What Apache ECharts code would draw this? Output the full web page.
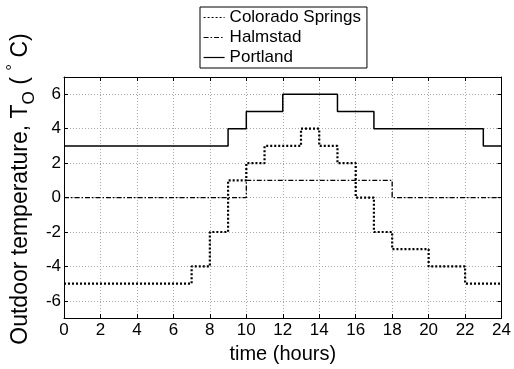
<!DOCTYPE html>
<html>
<head>
<meta charset="utf-8">
<script src="https://cdn.jsdelivr.net/npm/echarts@6/dist/echarts.min.js"></script>
<style>html,body{margin:0;padding:0;background:#fff;}#c{width:514px;height:369px;}</style>
</head>
<body>
<div id="c"></div>
<script>
const hours = [0,1,2,3,4,5,6,7,8,9,10,11,12,13,14,15,16,17,18,19,20,21,22,23,24];
const coloradoSprings = [-5,-5,-5,-5,-5,-5,-5,-4,-2,1,2,3,3,4,3,2,0,-2,-3,-3,-4,-4,-5,-5,-5];
const halmstad = [0,0,0,0,0,0,0,0,0,0,1,1,1,1,1,1,1,1,0,0,0,0,0,0,0];
const portland = [3,3,3,3,3,3,3,3,3,4,5,5,6,6,6,5,5,4,4,4,4,4,4,3,3];
const xTicks = [0,2,4,6,8,10,12,14,16,18,20,22,24];
const yTicks = [-6,-4,-2,0,2,4,6];

const FONT = 'Liberation Sans, Arial, sans-serif';
const pairs = arr => hours.map((h, i) => [h, arr[i]]);
const chart = echarts.init(document.getElementById('c'));
const split = {show: true, lineStyle: {color: '#a8a8a8', type: [1, 2], width: 1}};
const axLine = {show: true, onZero: false, lineStyle: {color: '#000', width: 1}};
const tick = {inside: true, length: 4, lineStyle: {color: '#000'}};
const CLEAR = 'rgba(0,0,0,0)';
const hidden = {color: CLEAR, borderColor: CLEAR, borderWidth: 0};
chart.setOption({
  animation: false,
  backgroundColor: '#fff',
  grid: {left: 64, right: 11, top: 77, bottom: 45},
  legend: {
    orient: 'vertical', left: 200, top: 7,
    padding: [2, 6, 2, 3], itemGap: 3, itemWidth: 21, itemHeight: 14,
    borderColor: '#000', borderWidth: 1, backgroundColor: '#fff',
    itemStyle: hidden,
    lineStyle: {width: 1.2},
    textStyle: {fontFamily: FONT, fontSize: 17, color: '#000', lineHeight: 17},
    data: ['Colorado Springs', 'Halmstad', 'Portland']
  },
  xAxis: [{
    type: 'value', min: 0, max: 24, interval: 2,
    axisLine: axLine, splitLine: split, axisTick: tick,
    axisLabel: {fontFamily: FONT, fontSize: 17, color: '#000', margin: 4,
      customValues: xTicks},
    name: 'time (hours)', nameLocation: 'middle', nameGap: 24,
    nameTextStyle: {fontFamily: FONT, fontSize: 20, color: '#000'}
  }, {
    type: 'value', position: 'top', min: 0, max: 24, interval: 2,
    axisLine: axLine, splitLine: {show: false}, axisTick: tick,
    axisLabel: {show: false}
  }],
  yAxis: [{
    type: 'value', min: -7, max: 7,
    axisLine: axLine, splitLine: split,
    axisTick: Object.assign({customValues: yTicks}, tick),
    axisLabel: {fontFamily: FONT, fontSize: 17, color: '#000', margin: 3,
      customValues: yTicks}
  }, {
    type: 'value', position: 'right', min: -7, max: 7,
    axisLine: axLine, splitLine: {show: false},
    axisTick: Object.assign({customValues: yTicks}, tick),
    axisLabel: {show: false, customValues: yTicks}
  }],
  graphic: [{
    type: 'text', x: 21, y: 189, rotation: Math.PI / 2,
    style: {
      text: 'Outdoor temperature, T{sub|O} ( {sup|°} C)',
      fontFamily: FONT, fontSize: 23, fill: '#000', lineHeight: 33,
      align: 'center', verticalAlign: 'middle',
      rich: {
        sub: {fontFamily: FONT, fontSize: 17, lineHeight: 15, verticalAlign: 'bottom', fill: '#000'},
        sup: {fontFamily: FONT, fontSize: 17, lineHeight: 15, verticalAlign: 'top', fill: '#000'}
      }
    }
  }],
  series: [{
    name: 'Colorado Springs', type: 'line', step: 'end', showSymbol: false, symbol: 'circle',
    data: pairs(coloradoSprings),
    lineStyle: {color: '#000', width: 2.2, type: [2, 2]}, itemStyle: hidden
  }, {
    name: 'Halmstad', type: 'line', step: 'end', showSymbol: false, symbol: 'circle',
    data: pairs(halmstad),
    lineStyle: {color: '#000', width: 1.3, type: [5, 2, 1.5, 2]}, itemStyle: hidden
  }, {
    name: 'Portland', type: 'line', step: 'end', showSymbol: false, symbol: 'circle',
    data: pairs(portland),
    lineStyle: {color: '#000', width: 1.5}, itemStyle: hidden
  }]
});
</script>
</body>
</html>
